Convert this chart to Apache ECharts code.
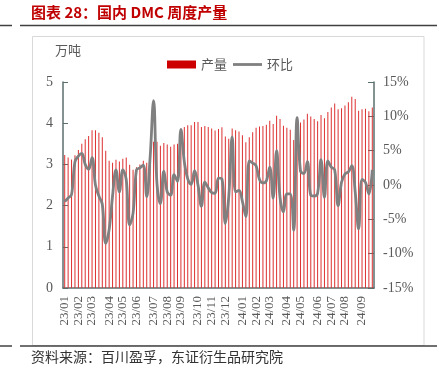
<!DOCTYPE html>
<html><head><meta charset="utf-8">
<script src="https://cdn.jsdelivr.net/npm/echarts@6/dist/echarts.min.js"></script>
<style>html,body{margin:0;padding:0;background:#fff}#c{width:439px;height:371px}</style>
</head><body><div id="c"></div>
<script>
const weeks = [
'2023-01-06','2023-01-13','2023-01-20','2023-01-27','2023-02-03','2023-02-10','2023-02-17','2023-02-24',
'2023-03-03','2023-03-10','2023-03-17','2023-03-24','2023-03-31','2023-04-07','2023-04-14','2023-04-21','2023-04-28',
'2023-05-05','2023-05-12','2023-05-19','2023-05-26','2023-06-02','2023-06-09','2023-06-16','2023-06-23','2023-06-30',
'2023-07-07','2023-07-14','2023-07-21','2023-07-28','2023-08-04','2023-08-11','2023-08-18','2023-08-25',
'2023-09-01','2023-09-08','2023-09-15','2023-09-22','2023-09-29','2023-10-06','2023-10-13','2023-10-20','2023-10-27',
'2023-11-03','2023-11-10','2023-11-17','2023-11-24','2023-12-01','2023-12-08','2023-12-15','2023-12-22','2023-12-29',
'2024-01-05','2024-01-12','2024-01-19','2024-01-26','2024-02-02','2024-02-09','2024-02-16','2024-02-23',
'2024-03-01','2024-03-08','2024-03-15','2024-03-22','2024-03-29','2024-04-05','2024-04-12','2024-04-19','2024-04-26',
'2024-05-03','2024-05-10','2024-05-17','2024-05-24','2024-05-31','2024-06-07','2024-06-14','2024-06-21','2024-06-28',
'2024-07-05','2024-07-12','2024-07-19','2024-07-26','2024-08-02','2024-08-09','2024-08-16','2024-08-23','2024-08-30',
'2024-09-06','2024-09-13','2024-09-20','2024-09-27'
];
const output = [
3.23,3.17,3.12,3.22,3.35,3.50,3.61,3.69,3.83,3.83,
3.77,3.66,3.33,3.09,3.04,3.11,3.07,3.14,3.17,2.99,
2.87,2.93,3.00,3.09,3.04,3.17,3.55,3.55,3.45,3.52,
3.48,3.43,3.48,3.50,3.78,3.91,3.95,3.95,4.03,4.03,
3.91,3.93,3.91,3.87,3.82,3.86,3.90,3.68,3.62,3.87,
3.83,3.80,3.71,3.54,3.66,3.78,3.89,3.92,3.93,3.96,
4.06,3.98,4.18,4.10,3.94,3.89,3.84,3.59,3.94,4.02,
4.09,4.23,4.16,4.10,4.05,4.20,4.12,4.27,4.38,4.48,
4.34,4.36,4.43,4.51,4.64,4.59,4.30,4.34,4.35,4.29,
4.38
];
const wow = [
-2.4,-1.9,-1.4,3.4,4.2,4.6,3.0,2.3,4.0,0.0,
-1.6,-2.8,-8.5,-6.5,-1.6,2.2,-1.0,2.2,0.8,-5.8,
-4.1,2.2,2.5,2.9,-1.7,4.1,12.3,0.2,-2.7,2.0,
-1.0,-1.5,1.5,0.5,8.1,3.4,0.9,0.1,2.1,0.0,
-3.1,0.4,-0.4,-1.1,-1.2,1.0,0.9,-5.6,-1.7,7.0,
-1.0,-0.8,-2.4,-4.6,3.5,3.2,2.8,0.8,0.3,0.6,
2.6,-1.9,5.0,-1.8,-3.9,-1.3,-1.3,-6.6,9.8,2.0,
1.7,3.4,-1.5,-1.6,-1.2,3.7,-1.8,3.5,2.6,2.2,
-3.0,0.4,1.6,1.9,2.8,-1.0,-6.4,0.8,0.4,-1.3,
2.2
];
const titleText = '图表 28：国内 DMC 周度产量';
const sourceText = '资料来源：百川盈孚，东证衍生品研究院';
const unitText = '万吨';
const seriesNames = ['产量', '环比'];

function isMonthStart(i) {
  return i === 0 || weeks[i].slice(5, 7) !== weeks[i - 1].slice(5, 7);
}
const axisColor = '#5b6e6e';
const labelColor = '#595959';
const serif = '"Liberation Serif", "Times New Roman", serif';
const cjk = '"Noto Sans CJK SC", sans-serif';

const chart = echarts.init(document.getElementById('c'), null, {renderer: 'canvas'});
chart.setOption({
  animation: false,
  backgroundColor: '#fff',
  grid: {left: 63, right: 65, top: 82, bottom: 83, containLabel: false},
  legend: {
    left: 162, top: 53, itemWidth: 29, itemHeight: 8, itemGap: 6,
    textStyle: {fontSize: 13, color: labelColor, fontFamily: cjk},
    data: [
      {name: seriesNames[0], icon: 'rect', itemStyle: {color: '#cc0000'}},
      {name: seriesNames[1], icon: 'path://M0,0 L31,0 L31,3 L0,3 Z'}
    ]
  },
  xAxis: {
    type: 'category', data: weeks, boundaryGap: true,
    axisLine: {lineStyle: {color: axisColor, width: 1.5}},
    axisTick: {inside: true, length: 4, alignWithLabel: true, interval: (i) => isMonthStart(i), lineStyle: {color: '#404040'}},
    axisLabel: {
      interval: (i) => isMonthStart(i), rotate: 90, margin: 8,
      showMinLabel: true, showMaxLabel: true, hideOverlap: false,
      formatter: (v) => v.slice(2, 4) + '/' + v.slice(5, 7),
      fontSize: 13, lineHeight: 10, color: labelColor, fontFamily: serif
    },
    splitLine: {show: false}
  },
  yAxis: [{
    type: 'value', min: 0, max: 5, interval: 1, position: 'left',
    axisLine: {show: true, lineStyle: {color: axisColor, width: 1.5}},
    axisTick: {show: true, inside: true, length: 5, lineStyle: {color: axisColor}},
    axisLabel: {fontSize: 14, color: labelColor, fontFamily: serif, margin: 10},
    splitLine: {show: false}
  }, {
    type: 'value', min: -15, max: 15, interval: 5, position: 'right',
    axisLine: {show: true, lineStyle: {color: axisColor, width: 1.5}},
    axisTick: {show: true, inside: true, length: 6, lineStyle: {color: axisColor}},
    axisLabel: {fontSize: 14, color: labelColor, fontFamily: serif, margin: 9, formatter: '{value}%'},
    splitLine: {show: false}
  }],
  series: [{
    name: seriesNames[0], type: 'bar', data: output, yAxisIndex: 0,
    barWidth: 1, itemStyle: {color: '#dd3030'}, z: 2
  }, {
    name: seriesNames[1], type: 'line', data: wow, yAxisIndex: 1,
    smooth: 0.4, symbol: 'none', lineStyle: {color: '#808080', width: 2.8}, itemStyle: {color: '#808080'}, z: 3
  }],
  graphic: [
    {type: 'text', left: 31, top: 5, style: {text: titleText, fill: '#c00000', fontSize: 15, fontWeight: 'bold', fontFamily: cjk}},
    {type: 'line', shape: {x1: 0, y1: 25.5, x2: 12, y2: 25.5}, style: {stroke: '#404040', lineWidth: 1.5}},
    {type: 'line', shape: {x1: 20, y1: 25.5, x2: 437, y2: 25.5}, style: {stroke: '#404040', lineWidth: 1.5}},
    {type: 'rect', shape: {x: 32.5, y: 36.5, width: 391.5, height: 309}, style: {fill: 'none', stroke: '#d9d9d9', lineWidth: 1}},
    {type: 'line', shape: {x1: 0, y1: 346, x2: 12, y2: 346}, style: {stroke: '#404040', lineWidth: 1.5}},
    {type: 'line', shape: {x1: 20, y1: 346, x2: 437, y2: 346}, style: {stroke: '#404040', lineWidth: 1.5}},
    {type: 'text', left: 55, top: 44, style: {text: unitText, fill: labelColor, fontSize: 13, fontFamily: cjk}},
    {type: 'text', left: 31, top: 350, style: {text: sourceText, fill: '#333', fontSize: 14, fontFamily: cjk}}
  ]
});
</script>
</body></html>
